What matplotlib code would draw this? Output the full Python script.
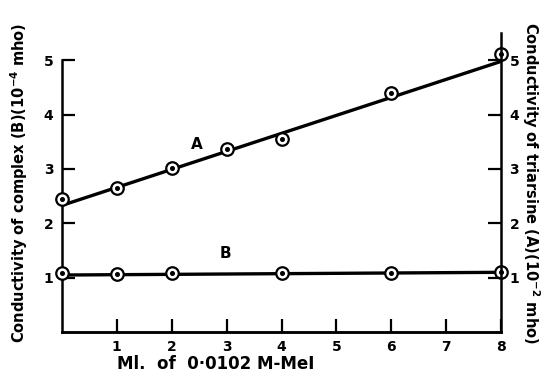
import matplotlib
matplotlib.use("Agg")
import matplotlib.pyplot as plt
import numpy as np

# data
x_a = [0, 1, 2, 3, 4, 6, 8]
y_a = [2.45, 2.65, 3.02, 3.37, 3.55, 4.40, 5.12]
x_b = [0, 1, 2, 4, 6, 8]
y_b = [1.08, 1.07, 1.08, 1.08, 1.09, 1.10]

# straight lines drawn through the points
fit_x = [0, 8]
fit_a = [2.33, 4.98]
fit_b = [1.05, 1.10]

x_ticks = [1, 2, 3, 4, 5, 6, 7, 8]
y_ticks = [1, 2, 3, 4, 5]

plt.rcParams['font.family'] = ['DejaVu Sans']
plt.rcParams['font.weight'] = 'bold'

fig = plt.figure(figsize=(5.52, 3.8), dpi=100)
ax = fig.add_axes([0.112, 0.126, 0.796, 0.787])

for xs, ys, fx, fy in [(x_a, y_a, fit_x, fit_a), (x_b, y_b, fit_x, fit_b)]:
    ax.plot(fx, fy, color='black', lw=2.4, zorder=2, solid_capstyle='butt')
    ax.plot(xs, ys, 'o', ms=9, mfc='white', mec='black', mew=1.6, zorder=3, clip_on=False)
    ax.plot(xs, ys, 'o', ms=2.6, color='black', zorder=4, clip_on=False)

ax.text(2.45, 3.45, 'A', fontsize=11, fontweight='bold', ha='center', va='center')
ax.text(2.98, 1.45, 'B', fontsize=11, fontweight='bold', ha='center', va='center')

ax.set_xlim(0, 8)
ax.set_ylim(0, 5.5)
ax.set_xticks(x_ticks)
ax.set_yticks(y_ticks)

ax2 = ax.twinx()
ax2.set_ylim(0, 5.5)
ax2.set_yticks(y_ticks)

for a in (ax, ax2):
    a.spines['top'].set_visible(False)
    for s in a.spines.values():
        s.set_linewidth(1.8)
    a.tick_params(direction='in', length=9.5, width=1.6, labelsize=10, pad=6)
ax.spines['left'].set_bounds(0, 5)
ax2.spines['left'].set_visible(False)
ax.spines['right'].set_visible(False)

ax.set_xlabel('Ml.  of  0·0102 M-MeI', fontsize=12, fontweight='bold')
ax.xaxis.set_label_coords(0.35, -0.075)
ax.set_ylabel('Conductivity of complex (B)(10$^{\\mathbf{-4}}$ mho)', fontsize=10.5,
              fontweight='bold', labelpad=10)
ax2.set_ylabel('Conductivity of triarsine (A)(10$^{\\mathbf{-2}}$ mho)', fontsize=10.5,
               fontweight='bold', rotation=270, labelpad=16)

fig.savefig('out.png', dpi=100)
